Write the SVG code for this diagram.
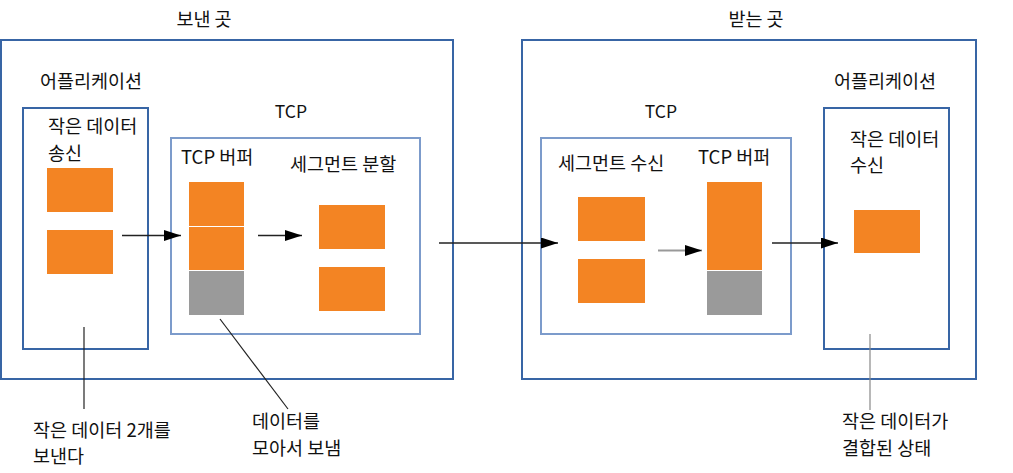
<svg xmlns="http://www.w3.org/2000/svg" width="1013" height="473" viewBox="0 0 1013 473">
<style>
text{font-family:"Noto Sans CJK KR","Liberation Sans",sans-serif;font-size:18.5px;fill:#111}
.lat{font-size:17.5px}
.outer{fill:none;stroke:#3865A5;stroke-width:2}
.app{fill:none;stroke:#3865A5;stroke-width:2}
.tcp{fill:none;stroke:#7C9BCB;stroke-width:2}
.or{fill:#F38423}
.gr{fill:#9A9A9A}
.arr{stroke:#222;stroke-width:1.3;fill:none}
.lead{stroke:#222;stroke-width:1.2;fill:none}
</style>
<defs>
<marker id="ah" viewBox="0 0 17 11" refX="17" refY="5.5" markerWidth="17" markerHeight="11" markerUnits="userSpaceOnUse" orient="auto">
<path d="M0,0 L17,5.5 L0,11 Z" fill="#000"/>
</marker>
</defs>
<rect width="1013" height="473" fill="#fff"/>
<g id="sender">
<rect class="outer" x="1" y="40" width="452" height="339"/>
<text x="204" y="26" text-anchor="middle">보낸 곳</text>
</g>
<g id="sender-app">
<text x="40" y="88">어플리케이션</text>
<rect class="app" x="23" y="108" width="125" height="241"/>
<text x="48" y="133">작은 데이터</text>
<text x="48" y="160">송신</text>
<rect class="or" x="47" y="168" width="66" height="44"/>
<rect class="or" x="47" y="230" width="66" height="44"/>
</g>
<g id="sender-tcp">
<text class="lat" x="291" y="118" text-anchor="middle">TCP</text>
<rect class="tcp" x="171" y="138" width="249" height="196"/>
<text x="181" y="164">TCP 버퍼</text>
<text x="290" y="171">세그먼트 분할</text>
<rect class="or" x="189" y="182" width="55" height="44"/>
<rect class="or" x="189" y="227" width="55" height="43"/>
<rect class="gr" x="189" y="271" width="55" height="44"/>
<rect class="or" x="319" y="205" width="66" height="44"/>
<rect class="or" x="319" y="267" width="66" height="44"/>
</g>
<g id="receiver">
<rect class="outer" x="522" y="40" width="454" height="339"/>
<text x="756" y="26" text-anchor="middle">받는 곳</text>
</g>
<g id="receiver-tcp">
<text class="lat" x="661" y="118" text-anchor="middle">TCP</text>
<rect class="tcp" x="541" y="138" width="250" height="196"/>
<text x="558" y="170">세그먼트 수신</text>
<text x="698" y="164">TCP 버퍼</text>
<rect class="or" x="578" y="197" width="67" height="44"/>
<rect class="or" x="578" y="259" width="67" height="44"/>
<rect class="or" x="707" y="182" width="55" height="88"/>
<rect class="gr" x="707" y="271" width="55" height="44"/>
</g>
<g id="receiver-app">
<text x="834" y="88">어플리케이션</text>
<rect class="app" x="824" y="108" width="125" height="241"/>
<text x="850" y="146">작은 데이터</text>
<text x="850" y="172">수신</text>
<rect class="or" x="854" y="210" width="66" height="43"/>
</g>
<g id="connectors">
<line class="arr" x1="122" y1="235.5" x2="181" y2="235.5" marker-end="url(#ah)"/>
<line class="arr" x1="258" y1="235.5" x2="302" y2="235.5" marker-end="url(#ah)"/>
<line class="arr" x1="439" y1="243" x2="558" y2="243" marker-end="url(#ah)"/>
<line class="arr" x1="658" y1="250.5" x2="702" y2="250.5" marker-end="url(#ah)" style="stroke:#999;stroke-width:2"/>
<line class="arr" x1="772" y1="243" x2="838" y2="243" marker-end="url(#ah)"/>
<line class="lead" x1="84" y1="327" x2="84" y2="409"/>
<line class="lead" x1="220" y1="319" x2="288" y2="409"/>
<line class="lead" x1="870" y1="334" x2="870" y2="410" style="stroke:#888"/>
</g>
<g id="labels">
<text x="33" y="437">작은 데이터 2개를</text>
<text x="33" y="463">보낸다</text>
<text x="252" y="428">데이터를</text>
<text x="252" y="455">모아서 보냄</text>
<text x="842" y="428">작은 데이터가</text>
<text x="842" y="455">결합된 상태</text>
</g>
</svg>
